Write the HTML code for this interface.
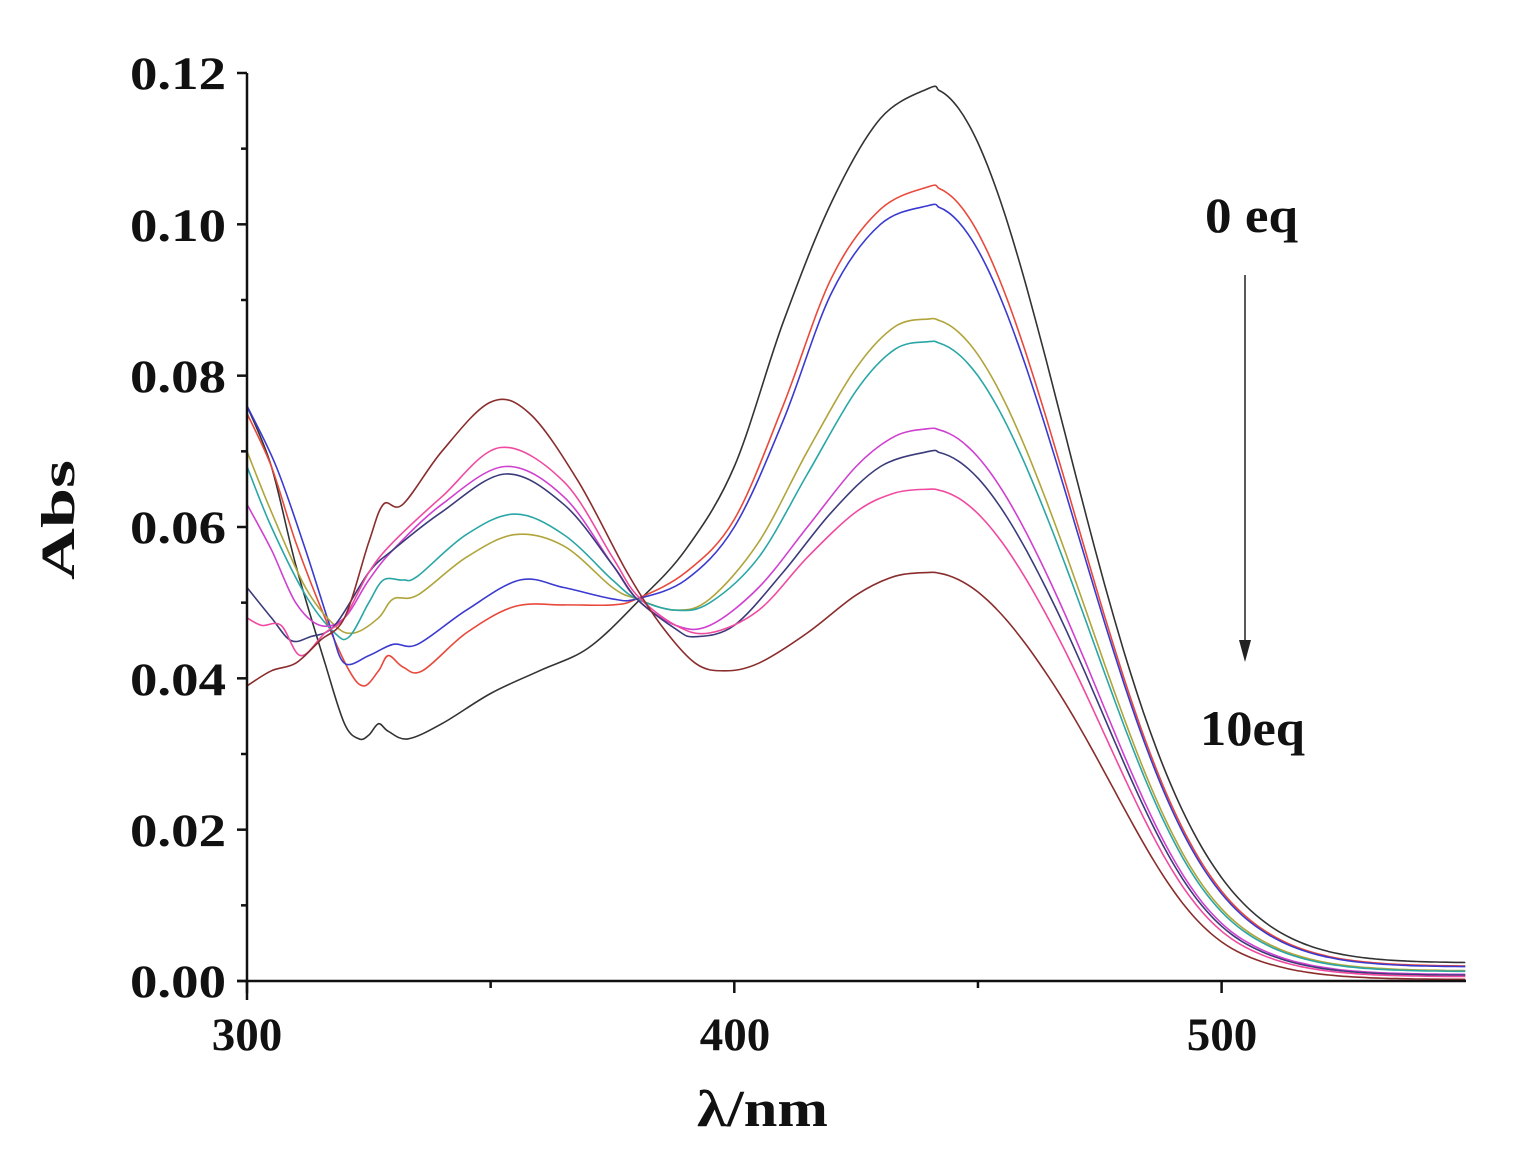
<!DOCTYPE html>
<html><head><meta charset="utf-8"><style>
html,body{margin:0;padding:0;background:#fff;}
svg text{font-family:"Liberation Serif",serif;font-weight:bold;fill:#111;}
</style></head><body>
<svg id="s" width="1521" height="1166" viewBox="0 0 1521 1166" xmlns="http://www.w3.org/2000/svg">
<rect width="1521" height="1166" fill="#fff"/>
<g id="curves" fill="none" stroke-width="1.6"></g>
<g stroke="#111" stroke-width="2.5" fill="none">
<line x1="247" y1="73" x2="247" y2="1000"/>
<line x1="237" y1="981" x2="1466" y2="981"/>
<g id="ticks"></g>
</g>
<g font-size="47" text-anchor="start">
<text x="130" y="997" textLength="96" lengthAdjust="spacingAndGlyphs">0.00</text>
<text x="130" y="846" textLength="96" lengthAdjust="spacingAndGlyphs">0.02</text>
<text x="130" y="695" textLength="96" lengthAdjust="spacingAndGlyphs">0.04</text>
<text x="130" y="543" textLength="96" lengthAdjust="spacingAndGlyphs">0.06</text>
<text x="130" y="392" textLength="96" lengthAdjust="spacingAndGlyphs">0.08</text>
<text x="130" y="241" textLength="96" lengthAdjust="spacingAndGlyphs">0.10</text>
<text x="130" y="89" textLength="96" lengthAdjust="spacingAndGlyphs">0.12</text>
</g>
<g font-size="47" text-anchor="middle">
<text x="247" y="1050">300</text>
<text x="735" y="1050">400</text>
<text x="1222" y="1050">500</text>
</g>
<text x="697" y="1126" font-size="52" textLength="131" lengthAdjust="spacingAndGlyphs">λ/nm</text>
<text x="1205" y="232" font-size="50" textLength="93" lengthAdjust="spacingAndGlyphs">0 eq</text>
<text x="1200" y="745" font-size="50" textLength="105" lengthAdjust="spacingAndGlyphs">10eq</text>
<text transform="translate(74,580) rotate(-90)" font-size="48" textLength="120" lengthAdjust="spacingAndGlyphs">Abs</text>
<line x1="1245" y1="275" x2="1245" y2="645" stroke="#222" stroke-width="1.5"/>
<polygon points="1239,640 1251,640 1245,662" fill="#222"/>
</svg>
<script>
function X(n){return 247+4.873*(n-300);}
function Y(a){return 981-7566.7*a;}
var C=[
["#333",0.118,[[300,.076],[305,.068],[310,.055],[316,.042],[320,.034],[323,.032],[325,.0325],[327,.034],[329,.033],[333,.032],[340,.034],[350,.038],[360,.041],[370,.044],[380,.05],[390,.057],[400,.068],[410,.087],[420,.103],[430,.114],[440,.118]]],
["#e8493b",0.105,[[300,.075],[305,.068],[310,.058],[316,.048],[321,.041],[324,.039],[327,.041],[329,.043],[332,.0415],[336,.041],[345,.046],[355,.0495],[365,.0497],[375,.0497],[380,.0505],[390,.054],[400,.061],[410,.076],[420,.093],[430,.102],[440,.105]]],
["#3a3ad0",0.1025,[[300,.076],[306,.068],[312,.057],[317,.047],[320,.042],[325,.043],[330,.0445],[335,.0445],[345,.049],[356,.053],[365,.052],[375,.0505],[380,.0505],[390,.053],[400,.06],[410,.074],[420,.091],[430,.1],[440,.1025]]],
["#b0a43a",0.0875,[[300,.07],[305,.062],[312,.052],[318,.047],[322,.046],[327,.048],[330,.0505],[335,.051],[345,.056],[355,.059],[365,.0575],[375,.052],[380,.0505],[388,.049],[395,.0505],[405,.058],[415,.07],[425,.081],[433,.0865],[440,.0875]]],
["#2aa6a6",0.0845,[[300,.068],[305,.06],[312,.051],[318,.046],[321,.0455],[325,.05],[328,.053],[332,.053],[335,.0535],[345,.059],[355,.0617],[365,.059],[375,.053],[380,.0505],[388,.049],[395,.05],[405,.056],[415,.067],[425,.078],[433,.0835],[440,.0845]]],
["#d040d0",0.073,[[300,.063],[305,.057],[310,.05],[315,.047],[320,.048],[325,.053],[330,.057],[340,.063],[353,.068],[365,.064],[375,.055],[380,.0505],[388,.047],[395,.047],[405,.052],[415,.06],[425,.068],[433,.072],[440,.073]]],
["#3b3b7a",0.070,[[300,.052],[305,.048],[309,.045],[313,.0455],[318,.047],[325,.054],[330,.057],[340,.062],[353,.067],[365,.063],[375,.055],[380,.0505],[388,.0465],[392,.0455],[400,.047],[410,.054],[420,.062],[430,.068],[440,.07]]],
["#f04aa0",0.065,[[300,.048],[303,.047],[307,.047],[311,.043],[316,.046],[320,.048],[325,.054],[330,.058],[340,.064],[352,.0705],[365,.066],[375,.056],[380,.051],[388,.047],[395,.046],[405,.049],[415,.056],[425,.062],[433,.0645],[440,.065]]],
["#8a2d2d",0.054,[[300,.039],[305,.041],[310,.042],[315,.045],[320,.048],[325,.058],[328,.063],[332,.063],[340,.07],[350,.0765],[358,.075],[368,.066],[378,.054],[385,.047],[392,.042],[398,.041],[405,.042],[415,.046],[425,.051],[433,.0535],[440,.054]]]
];
var g=document.getElementById('curves'),ns="http://www.w3.org/2000/svg";
C.forEach(function(c){
 var p=c[2].slice(),pk=c[1],r=(0.118-pk)/0.064;
 var sa=27.8+r*4, sb=27.8-r*0.5, b=0.0022*(1-r)+0.0002;
 for(var n=442;n<=550;n+=2){
  var t=Math.min(1,Math.max(0,(n-465)/40));t=t*t*(3-2*t);var s=sa+(sb-sa)*t;
  p.push([n,(pk-b)*Math.exp(-Math.pow((n-440)/s,2)/2)+b]);
 }
 var pts=p.map(function(q){return [X(q[0]),Y(q[1])];});
 var d="M"+pts[0][0].toFixed(1)+","+pts[0][1].toFixed(1);
 for(var i=0;i<pts.length-1;i++){
  var p0=pts[Math.max(0,i-1)],p1=pts[i],p2=pts[i+1],p3=pts[Math.min(pts.length-1,i+2)];
  var c1=[p1[0]+(p2[0]-p0[0])/6,p1[1]+(p2[1]-p0[1])/6],c2=[p2[0]-(p3[0]-p1[0])/6,p2[1]-(p3[1]-p1[1])/6];
  d+=" C"+c1[0].toFixed(1)+","+c1[1].toFixed(1)+" "+c2[0].toFixed(1)+","+c2[1].toFixed(1)+" "+p2[0].toFixed(1)+","+p2[1].toFixed(1);
 }
 var e=document.createElementNS(ns,"path");e.setAttribute("d",d);e.setAttribute("stroke",c[0]);g.appendChild(e);
});
var t=document.getElementById('ticks'),s="";
for(var k=0;k<=12;k++){var y=Y(k*0.01);var L=(k%2==0)?10:6;s+='<line x1="'+(247-L)+'" y1="'+y+'" x2="247" y2="'+y+'"/>';}
[300,350,400,450,500].forEach(function(n){var x=X(n);var L=(n%100==0)?12:7;s+='<line x1="'+x+'" y1="981" x2="'+x+'" y2="'+(981+L)+'"/>';});
t.innerHTML=s;
</script>
</body></html>
